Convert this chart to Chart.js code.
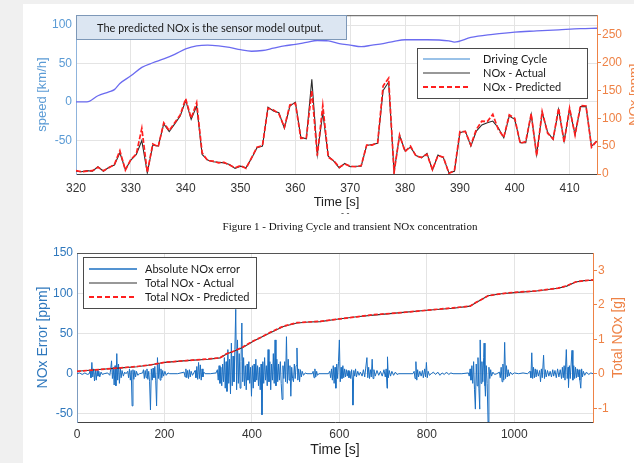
<!DOCTYPE html>
<html>
<head>
<meta charset="utf-8">
<script src="https://cdn.jsdelivr.net/npm/chart.js@4.4.1/dist/chart.umd.min.js"></script>
<style>
  body { margin: 0; width: 634px; height: 463px; overflow: hidden; position: relative; background: #f0f0f0; }
  #panel { position: absolute; left: 23px; top: 4px; width: 611px; height: 459px; background: #fff; }
  #c1 { position: absolute; left: 23px; top: 4px; }
  #c2 { position: absolute; left: 23px; top: 232px; }
  #dash { position: absolute; left: 341px; top: 208px; font: 9px "Liberation Sans", sans-serif; color: #333; }
  #caption { position: absolute; left: 23px; width: 654px; top: 220px; text-align: center; font: 11px "Liberation Serif", serif; color: #111; }
</style>
</head>
<body>
<div id="panel"></div>
<canvas id="c1" width="625" height="210"></canvas>
<div id="dash">- -</div>
<div id="caption">Figure 1 - Driving Cycle and transient NOx concentration</div>
<canvas id="c2" width="611" height="231"></canvas>
<script>
// ---- Figure 1 data: driving cycle + NOx concentration ----
const cycleTime = [
  320, 321, 322, 323, 324, 325, 326, 327, 328, 329,
  330, 331, 332, 333, 334, 335, 336, 337, 338, 339,
  340, 341, 342, 343, 344, 345, 346, 347, 348, 349,
  350, 351, 352, 353, 354, 355, 356, 357, 358, 359,
  360, 361, 362, 363, 364, 365, 366, 367, 368, 369,
  370, 371, 372, 373, 374, 375, 376, 377, 378, 379,
  380, 381, 382, 383, 384, 385, 386, 387, 388, 389,
  390, 391, 392, 393, 394, 395, 396, 397, 398, 399,
  400, 401, 402, 403, 404, 405, 406, 407, 408, 409,
  410, 411, 412, 413, 414, 415
];
const noxActual = [
  5, 4, 6, 5, 13, 5, 12, 16, 38, 8,
  25, 35, 60, 2, 52, 50, 90, 76, 90, 104,
  132, 98, 122, 35, 25, 22, 21, 20, 17, 10,
  14, 11, 28, 47, 50, 120, 113, 110, 82, 122,
  129, 66, 63, 170, 35, 110, 32, 23, 11, 19,
  13, 14, 14, 51, 53, 55, 150, 165, 4, 69,
  42, 48, 33, 29, 37, 7, 34, 29, 2, 5,
  74, 77, 50, 77, 88, 92, 95, 83, 65, 104,
  98, 56, 56, 107, 35, 110, 75, 62, 116, 59,
  116, 71, 121, 121, 50, 59
];
const noxPredicted = [
  6, 4, 5, 6, 12, 6, 11, 17, 42, 7,
  26, 36, 82, 3, 54, 49, 92, 78, 92, 106,
  135, 100, 128, 38, 24, 23, 20, 21, 16, 11,
  15, 10, 29, 48, 51, 118, 115, 108, 84, 124,
  127, 64, 65, 150, 33, 123, 30, 24, 12, 18,
  14, 13, 15, 52, 52, 56, 158, 172, 3, 70,
  40, 50, 32, 30, 35, 8, 33, 30, 1, 6,
  76, 76, 52, 80, 95, 94, 107, 80, 66, 106,
  100, 55, 58, 108, 33, 112, 73, 63, 118, 57,
  118, 70, 123, 122, 48, 60
];
const speedTime = [320, 322, 324, 326, 327, 328, 330, 332, 334, 336, 338, 340, 342, 344, 346, 348, 350,
  352, 354, 356, 358, 360, 362, 364, 366, 368, 370, 372, 374, 376, 378, 380, 384, 388, 389, 392,
  396, 400, 404, 408, 412, 415];
const speedKmh = [0, 0, 8, 13, 16, 24, 34, 45, 51, 56, 62, 69, 73, 74, 73, 71, 68,
  66, 67, 70, 73, 75, 77.5, 80, 79.5, 76, 74, 72, 74, 76, 79, 81, 81, 79.5, 78, 84,
  88, 91, 92.5, 94, 95.5, 96];
const timeTicks1 = [320, 330, 340, 350, 360, 370, 380, 390, 400, 410];
const speedTicks = [-50, 0, 50, 100];
const noxTicks = [0, 50, 100, 150, 200, 250];

// ---- Figure 2 data: error + cumulative NOx ----
const totalTime = [0, 50, 100, 137, 170, 201, 250, 300, 327, 342, 360, 380, 403, 420, 442, 472, 503,
  530, 556, 594, 640, 678, 740, 800, 860, 899, 911, 925, 940, 970, 1000, 1050, 1100, 1120, 1140, 1160, 1180];
const totalActual = [0.07, 0.12, 0.17, 0.2, 0.26, 0.33, 0.38, 0.42, 0.46, 0.57, 0.66, 0.77, 0.94, 1.05, 1.19,
  1.37, 1.47, 1.5, 1.51, 1.58, 1.65, 1.7, 1.77, 1.84, 1.9, 1.96, 2.05, 2.15, 2.26, 2.32, 2.35, 2.4, 2.48,
  2.54, 2.66, 2.7, 2.71];
const totalPredicted = [0.07, 0.12, 0.17, 0.21, 0.26, 0.33, 0.38, 0.43, 0.46, 0.58, 0.66, 0.78, 0.95, 1.05, 1.2,
  1.38, 1.48, 1.5, 1.52, 1.58, 1.65, 1.71, 1.77, 1.84, 1.91, 1.96, 2.06, 2.15, 2.26, 2.32, 2.36, 2.4, 2.48,
  2.55, 2.66, 2.7, 2.72];
// [time s, error ppm]
const errorSamples = [
  [0, 0], [6, 1], [12, -1], [18, 1], [24, -1], [28, 0],
  [30, 4], [32, -5], [34, 14], [36, -4], [38, 6], [40, -9], [42, 5], [44, -8], [46, 4], [48, -3], [50, 3],
  [52, -4], [55, 2], [58, -1], [62, 0], [70, 1],
  [75, -2], [77, 5], [79, 16], [81, -6], [83, 8], [85, -14], [87, 10], [89, -15], [91, 25], [93, -8],
  [95, 12], [97, -12], [99, 7], [101, -5], [103, 4], [106, -3], [109, 2], [112, 0],
  [116, 3], [118, -5], [120, 6], [122, -8], [124, 4], [126, -40], [128, 5], [130, -7], [132, 4], [134, -4],
  [136, 3], [139, -2], [143, 0],
  [150, 1], [152, 5], [154, -6], [156, 4], [158, -5], [160, 6], [162, -7], [164, 3], [166, -10], [168, -45],
  [170, 6], [172, -8], [174, 7], [176, -5], [178, 9], [180, -8], [182, -40], [184, 20], [186, -6], [188, 12],
  [190, -8], [192, 6], [194, -5], [196, 4], [198, -3], [201, 3], [204, -2], [208, 1], [212, 0], [230, 0],
  [245, 2], [247, -4], [249, 6], [251, -5], [253, 4], [255, -6], [257, 5], [259, -4], [261, 3], [264, -2],
  [267, 1], [270, 4], [272, -5], [274, 9], [276, -7], [278, 14], [280, -6], [282, 11], [284, -8], [286, 6],
  [288, -4], [290, 2], [293, 0], [305, 0], [318, 1],
  [321, 5], [323, -8], [325, 10], [327, -12], [329, 8], [331, -15], [333, 12], [335, -10], [337, 20], [339, -18],
  [341, 15], [343, -22], [345, 30], [347, -12], [349, 18], [351, -25], [353, 38], [355, -15], [357, 22], [359, -10],
  [361, 30], [363, 80], [365, -20], [367, 42], [369, -12], [371, 25], [373, -18], [375, 15], [377, 63], [379, -10],
  [381, 20], [383, -15], [385, 10], [387, -20], [389, 12], [391, -8], [393, 15], [395, -12], [397, 8], [399, -28],
  [401, 10], [403, -18], [405, 12], [407, -10], [409, 18], [411, -8], [413, 10], [415, -15], [417, 8], [419, -20],
  [421, 12], [423, -51], [425, 15], [427, -12], [429, 20], [431, -8], [433, 10], [435, -15], [437, 30], [439, -10],
  [441, 15], [443, -20], [445, 12], [447, -8], [449, 25], [451, -12], [453, 42], [455, -15], [457, 18], [459, -10],
  [461, 12], [463, -8], [465, 15], [467, -12], [469, -32], [471, 10], [473, -6], [475, 15], [477, -10], [479, 46],
  [481, -12], [483, 18], [485, -8], [487, 10], [489, -28], [491, 8], [493, -6], [495, -10], [497, 12], [499, -6],
  [501, 10], [503, 32], [505, -8], [507, 6], [509, -10], [511, 5], [513, -4], [515, 3], [518, -2], [522, 1],
  [526, 0], [538, 0], [540, 3], [542, -5], [544, 6], [546, -4], [548, 3], [550, -2], [553, 0],
  [575, 0], [578, 3], [580, -5], [582, 6], [584, -8], [586, 10], [588, -12], [590, 8], [592, -18], [594, 12],
  [596, -6], [598, 15], [600, 42], [602, -10], [604, 8], [606, -6], [608, 10], [610, -5], [612, 6], [614, -4],
  [616, 5], [618, -3], [620, 4], [622, -5], [624, 3], [626, -6], [628, 5], [630, -8], [631, -39], [633, 4],
  [635, -3], [637, 6], [639, -4], [642, 3], [645, -2], [648, 2], [652, -3], [655, 5], [658, -4], [660, 6],
  [663, 20], [665, -5], [667, 8], [669, -6], [671, 5], [673, -4], [675, 18], [677, -6], [679, 5], [682, -3],
  [686, 4], [690, -2], [694, 3], [698, -3], [702, 5], [705, -4], [707, 6], [709, -18], [710, 21], [712, -5],
  [714, 4], [717, -3], [720, 3], [724, -2], [728, 2], [732, -1], [736, 0],
  [768, 0], [771, 3], [773, -6], [775, 15], [777, -8], [779, 5], [781, -4], [784, 3], [787, -3], [790, 4],
  [792, -5], [795, 6], [797, -4], [799, 14], [801, -5], [803, 3], [806, -2], [810, 0],
  [815, 2], [820, -1], [825, 2], [830, -2], [835, 1], [840, -1], [845, 2], [850, -1], [855, 1], [860, 0],
  [880, 0], [895, 1],
  [897, -3], [899, 6], [901, -8], [903, 10], [905, -12], [907, 15], [909, -20], [911, -44], [913, 12], [915, -15],
  [917, 20], [919, -18], [921, -44], [922, 42], [924, -12], [926, 15], [928, -10], [930, 20], [931, 38], [933, -15],
  [934, -28], [936, 10], [938, -12], [940, -60], [942, 8], [944, -6], [946, 5], [948, -3], [951, 2], [955, -1],
  [960, 0], [966, 2], [968, -5], [970, 8], [972, -10], [974, 12], [976, -8], [978, 39], [980, -6], [982, 10],
  [984, -4], [986, 5], [988, -3], [991, 2], [995, -1], [1000, 1], [1010, 0], [1020, 1], [1030, 0],
  [1036, 3], [1038, -5], [1040, 26], [1042, -6], [1044, 8], [1046, -5], [1048, 6], [1050, -4], [1052, 5], [1055, -3],
  [1058, 4], [1060, -10], [1062, 6], [1064, -5], [1067, 23], [1069, -6], [1071, 5], [1073, -4], [1076, 4], [1079, -3],
  [1082, 3], [1085, -4], [1088, 5], [1090, -3], [1093, 4], [1096, -5], [1099, 6], [1102, -4], [1105, 5], [1108, -6],
  [1110, 8], [1112, -5], [1114, 10], [1116, -8], [1119, 30], [1121, -6], [1123, 8], [1124, -17], [1126, 10], [1128, -6],
  [1130, 12], [1132, 29], [1134, -8], [1136, 10], [1138, -6], [1140, 8], [1142, -5], [1144, 6], [1146, -4], [1148, 5],
  [1150, -8], [1152, -18], [1154, 6], [1156, -4], [1158, 3], [1161, -2], [1165, 2], [1170, -1], [1175, 1], [1180, 0]
];
const timeTicks2 = [0, 200, 400, 600, 800, 1000];
const errorTicks = [-50, 0, 50, 100, 150];
const totalTicks = [-1, 0, 1, 2, 3];

const BLUE_L = '#5b9bd5';
const BLUE_D = '#2f78bd';
const ORANGE = '#ee8246';
const GRID = '#e4e4e4';
const TICK_FONT = { family: '"Liberation Sans", Arial, sans-serif', size: 12 };

// put the ticks exactly where the figure has them
const useTicks = list => axis => { axis.ticks = list.map(v => ({ value: v })); };
const plain = v => String(v);

// extra drawing: top frame, right axis title, note box, legend
const decor = {
  id: 'decor',
  afterDraw(chart, args, opts) {
    const { ctx, chartArea: a } = chart;
    ctx.save();
    ctx.strokeStyle = '#555';
    ctx.lineWidth = 1;
    ctx.beginPath();
    ctx.moveTo(a.left, a.top + 0.5);
    ctx.lineTo(a.right, a.top + 0.5);
    ctx.stroke();

    // right title, reading bottom to top like the left one
    ctx.save();
    ctx.translate(opts.rightTitle.x, (a.top + a.bottom) / 2);
    ctx.rotate(-Math.PI / 2);
    ctx.fillStyle = ORANGE;
    ctx.font = opts.rightTitle.size + 'px "Liberation Sans", Arial, sans-serif';
    ctx.textAlign = 'center';
    ctx.textBaseline = 'middle';
    ctx.fillText(opts.rightTitle.text, 0, 0);
    ctx.restore();

    if (opts.note) {
      const n = opts.note;
      ctx.fillStyle = '#dce6f2';
      ctx.fillRect(n.x, n.y, n.w, n.h);
      ctx.strokeStyle = '#7d98b8';
      ctx.strokeRect(n.x + 0.5, n.y + 0.5, n.w - 1, n.h - 1);
      ctx.fillStyle = '#1a1a1a';
      ctx.font = '11px Lato, "Open Sans", sans-serif';
      ctx.textAlign = 'left';
      ctx.textBaseline = 'middle';
      ctx.fillText(n.text, n.tx, n.y + n.h / 2 + 1);
    }

    const L = opts.legend;
    ctx.fillStyle = '#fff';
    ctx.fillRect(L.x, L.y, L.w, L.h);
    ctx.strokeStyle = '#4a4a4a';
    ctx.lineWidth = 1;
    ctx.strokeRect(L.x + 0.5, L.y + 0.5, L.w - 1, L.h - 1);
    ctx.font = '11px Lato, "Open Sans", sans-serif';
    ctx.textBaseline = 'middle';
    L.items.forEach((it, i) => {
      const y = L.y + L.row0 + i * L.rowGap;
      ctx.strokeStyle = it.color;
      ctx.lineWidth = it.width;
      ctx.setLineDash(it.dash || []);
      ctx.beginPath();
      ctx.moveTo(L.x + L.lineX0, y);
      ctx.lineTo(L.x + L.lineX1, y);
      ctx.stroke();
      ctx.setLineDash([]);
      ctx.fillStyle = '#1a1a1a';
      ctx.fillText(it.text, L.x + L.textX, y);
    });
    ctx.restore();
  }
};

// ---- Figure 1 ----
const chart1 = new Chart(document.getElementById('c1'), {
  type: 'line',
  data: {
    datasets: [
      {
        label: 'NOx - Predicted',
        data: cycleTime.map((t, i) => ({ x: t, y: noxPredicted[i] })),
        yAxisID: 'yNox',
        borderColor: '#ff1f1f',
        borderWidth: 1.7,
        borderDash: [5, 2],
        pointRadius: 0,
        order: 0
      },
      {
        label: 'NOx - Actual',
        data: cycleTime.map((t, i) => ({ x: t, y: noxActual[i] })),
        yAxisID: 'yNox',
        borderColor: '#2b2b2b',
        borderWidth: 1.1,
        pointRadius: 0,
        order: 1
      },
      {
        label: 'Driving Cycle',
        data: speedTime.map((t, i) => ({ x: t, y: speedKmh[i] })),
        yAxisID: 'ySpeed',
        borderColor: '#6b6bf0',
        borderWidth: 1.3,
        pointRadius: 0,
        cubicInterpolationMode: 'monotone',
        order: 2
      }
    ]
  },
  options: {
    responsive: false,
    animation: false,
    devicePixelRatio: 1,
    events: [],
    layout: { padding: { top: 11, left: 0, right: 0, bottom: 0 } },
    plugins: {
      legend: { display: false },
      tooltip: { enabled: false },
      decor: {
        rightTitle: { text: 'NOx [ppm]', x: 611, size: 13 },
        note: { x: 53, y: 11, w: 271, h: 25, tx: 74, text: 'The predicted NOx is the sensor model output.' },
        legend: {
          x: 394, y: 44, w: 171, h: 51, row0: 11, rowGap: 14, lineX0: 6, lineX1: 53, textX: 66,
          items: [
            { text: 'Driving Cycle', color: '#79aee0', width: 1.5 },
            { text: 'NOx - Actual', color: '#333', width: 1.2 },
            { text: 'NOx - Predicted', color: '#ff1f1f', width: 1.8, dash: [5, 3] }
          ]
        }
      }
    },
    scales: {
      x: {
        type: 'linear',
        min: 320,
        max: 415,
        afterBuildTicks: useTicks(timeTicks1),
        afterFit: s => { s.height = 40; },
        ticks: { color: '#333', font: TICK_FONT, padding: 7, maxRotation: 0, autoSkip: false, callback: plain },
        grid: { color: GRID, drawTicks: false },
        border: { color: '#444' },
        title: { display: true, text: 'Time [s]', color: '#222', font: { family: TICK_FONT.family, size: 13 }, padding: { top: 0, bottom: 4 } }
      },
      ySpeed: {
        position: 'left',
        min: -94,
        max: 113,
        afterBuildTicks: useTicks(speedTicks),
        afterFit: s => { s.width = 53; },
        ticks: { color: BLUE_L, font: TICK_FONT, padding: 4, callback: plain },
        grid: { color: GRID, drawTicks: false },
        border: { color: '#8fb4dc' },
        title: { display: true, text: 'speed [km/h]', color: BLUE_L, font: { family: TICK_FONT.family, size: 13 }, padding: { top: 12, bottom: 0 } }
      },
      yNox: {
        position: 'right',
        min: 0,
        max: 285,
        afterBuildTicks: useTicks(noxTicks),
        afterFit: s => { s.width = 51; },
        ticks: { color: ORANGE, font: TICK_FONT, padding: 1, callback: plain },
        grid: { drawOnChartArea: false, color: ORANGE, tickLength: 4 },
        border: { color: ORANGE }
      }
    }
  },
  plugins: [decor]
});

// ---- Figure 2 ----
const chart2 = new Chart(document.getElementById('c2'), {
  type: 'line',
  data: {
    datasets: [
      {
        label: 'Total NOx - Predicted',
        data: totalTime.map((t, i) => ({ x: t, y: totalPredicted[i] })),
        yAxisID: 'yTotal',
        borderColor: '#ff1f1f',
        borderWidth: 1.7,
        borderDash: [4, 2],
        pointRadius: 0,
        order: 0
      },
      {
        label: 'Total NOx - Actual',
        data: totalTime.map((t, i) => ({ x: t, y: totalActual[i] })),
        yAxisID: 'yTotal',
        borderColor: '#333',
        borderWidth: 1.1,
        pointRadius: 0,
        order: 1
      },
      {
        label: 'Absolute NOx error',
        data: errorSamples.map(([t, v]) => ({ x: t, y: v })),
        yAxisID: 'yErr',
        borderColor: '#1b6fc2',
        borderWidth: 1,
        pointRadius: 0,
        order: 2
      }
    ]
  },
  options: {
    responsive: false,
    animation: false,
    devicePixelRatio: 1,
    events: [],
    layout: { padding: { top: 21, left: 0, right: 0, bottom: 0 } },
    plugins: {
      legend: { display: false },
      tooltip: { enabled: false },
      decor: {
        rightTitle: { text: 'Total NOx [g]', x: 595, size: 14 },
        legend: {
          x: 60, y: 25, w: 174, h: 52, row0: 12, rowGap: 14, lineX0: 6, lineX1: 54, textX: 62,
          items: [
            { text: 'Absolute NOx error', color: '#1b6fc2', width: 1.3 },
            { text: 'Total NOx - Actual', color: '#333', width: 1.2 },
            { text: 'Total NOx - Predicted', color: '#ff1f1f', width: 1.8, dash: [5, 3] }
          ]
        }
      }
    },
    scales: {
      x: {
        type: 'linear',
        min: 0,
        max: 1180,
        afterBuildTicks: useTicks(timeTicks2),
        afterFit: s => { s.height = 41; },
        ticks: { color: '#333', font: TICK_FONT, padding: 5, maxRotation: 0, autoSkip: false, callback: plain },
        grid: { color: GRID, drawTicks: false },
        border: { color: '#444' },
        title: { display: true, text: 'Time [s]', color: '#222', font: { family: TICK_FONT.family, size: 14 }, padding: { top: 0, bottom: 4 } }
      },
      yErr: {
        position: 'left',
        min: -60,
        max: 150,
        afterBuildTicks: useTicks(errorTicks),
        afterFit: s => { s.width = 54; },
        ticks: { color: BLUE_D, font: TICK_FONT, padding: 4, callback: plain },
        grid: { color: GRID, drawTicks: false },
        border: { color: '#7d9cc0' },
        title: { display: true, text: 'NOx Error [ppm]', color: BLUE_D, font: { family: TICK_FONT.family, size: 14 }, padding: { top: 12, bottom: 0 } }
      },
      yTotal: {
        position: 'right',
        min: -1.4,
        max: 3.5,
        afterBuildTicks: useTicks(totalTicks),
        afterFit: s => { s.width = 41; },
        ticks: { color: ORANGE, font: TICK_FONT, padding: 1, callback: plain },
        grid: { drawOnChartArea: false, color: ORANGE, tickLength: 4 },
        border: { color: ORANGE }
      }
    }
  },
  plugins: [decor]
});
</script>
</body>
</html>
